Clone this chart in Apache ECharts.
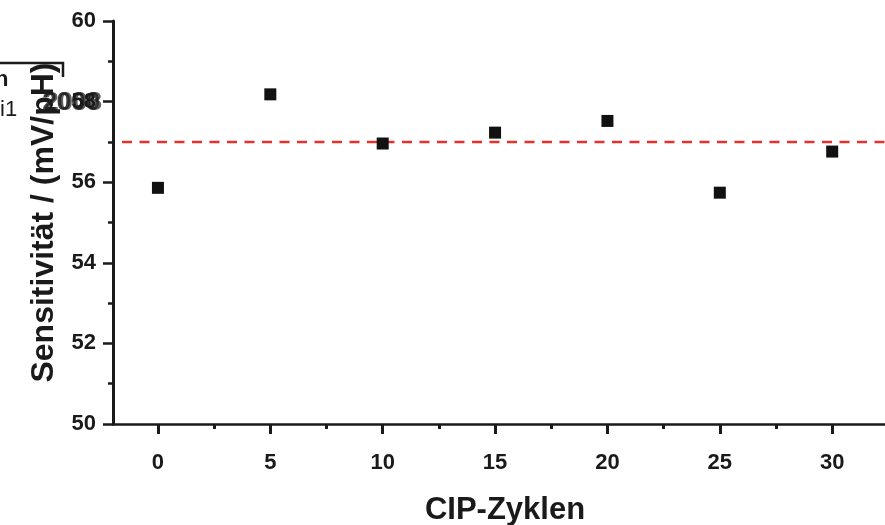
<!DOCTYPE html>
<html><head><meta charset="utf-8">
<script src="https://cdn.jsdelivr.net/npm/echarts@6/dist/echarts.min.js"></script>
<style>html,body{margin:0;padding:0;background:#fff}#c{width:885px;height:525px}</style>
</head><body><div id="c"></div>
<script>
const cycles = [0, 5, 10, 15, 20, 25, 30];
const sensitivity = [55.86, 58.18, 56.96, 57.23, 57.52, 55.74, 56.76];
const meanValue = 57.0;
const meanLineX = [-1.6, 32.35];
const xMajorTicks = [0, 5, 10, 15, 20, 25, 30];
const xMinorTicks = [2.5, 7.5, 12.5, 17.5, 22.5, 27.5];
const yTicks = [50, 52, 54, 56, 58, 60];
const xTitle = 'CIP-Zyklen';
const yTitle = 'Sensitivität / (mV/pH)';

const chart = echarts.init(document.getElementById('c'));
const ink = '#1a1a1a';
const font = 'Liberation Sans, Arial, sans-serif';
chart.setOption({
  animation: false,
  grid: {left: 113, right: 0, top: 21, bottom: 101, containLabel: false, outerBoundsMode: 'none'},
  xAxis: [{
    type: 'value', min: -2, max: 32.35,
    axisLine: {show: true, onZero: false, lineStyle: {color: ink, width: 2.5}},
    axisTick: {show: true, inside: false, length: 10, lineStyle: {color: ink, width: 3}, customValues: xMajorTicks},
    axisLabel: {show: true, customValues: xMajorTicks, margin: 28, fontSize: 22, fontWeight: 'bold', color: ink, fontFamily: font},
    splitLine: {show: false},
    name: xTitle, nameLocation: 'middle', nameGap: 71,
    nameTextStyle: {fontSize: 31, fontWeight: 'bold', color: ink, fontFamily: font, padding: [0, 0, 0, 12]}
  }, {
    type: 'value', min: -2, max: 32.35, position: 'bottom',
    axisLine: {show: false, onZero: false},
    axisTick: {show: true, inside: false, length: 5, lineStyle: {color: ink, width: 3}, customValues: xMinorTicks},
    axisLabel: {show: false},
    splitLine: {show: false}
  }],
  yAxis: {
    type: 'value', min: 50, max: 60, interval: 2,
    axisLine: {show: true, onZero: false, lineStyle: {color: ink, width: 3}},
    axisTick: {show: true, inside: false, length: 10, lineStyle: {color: ink, width: 2.5}},
    minorTick: {show: true, splitNumber: 2, length: 5, lineStyle: {color: ink, width: 2.5}},
    axisLabel: {margin: 17, fontSize: 22, fontWeight: 'bold', color: ink, fontFamily: font,
      formatter: v => yTicks.includes(v) ? String(v) : ''},
    splitLine: {show: false},
    name: yTitle, nameLocation: 'middle', nameGap: 52, nameRotate: 90,
    nameTextStyle: {fontSize: 32, fontWeight: 'bold', color: ink, fontFamily: font}
  },
  series: [{
    type: 'line', xAxisIndex: 0,
    data: meanLineX.map(x => [x, meanValue]),
    symbol: 'none',
    lineStyle: {color: '#e8302f', width: 2.5, type: [10, 7.5]},
    z: 1
  }, {
    type: 'scatter', xAxisIndex: 0,
    data: cycles.map((c, i) => [c, sensitivity[i]]),
    symbol: 'rect', symbolSize: 12,
    itemStyle: {color: '#111', opacity: 1},
    z: 3
  }],
  graphic: [
    {type: 'polyline', shape: {points: [[0, 63], [63, 63], [63, 77]]}, style: {stroke: ink, lineWidth: 2.5, fill: null}},
    {type: 'text', right: 785, top: 90, style: {text: '2000', font: 'bold 26px Liberation Sans', fill: ink, opacity: 0.85}},
    {type: 'text', right: 783, top: 90, style: {text: '2008', font: 'bold 26px Liberation Sans', fill: ink, opacity: 0.7}},
    {type: 'text', left: 0, top: 99, style: {text: 'i1', font: '22px Liberation Sans', fill: ink}},
    {type: 'text', left: -5, top: 69, style: {text: 'n', font: 'bold 22px Liberation Sans', fill: ink}}
  ]
});
</script></body></html>
